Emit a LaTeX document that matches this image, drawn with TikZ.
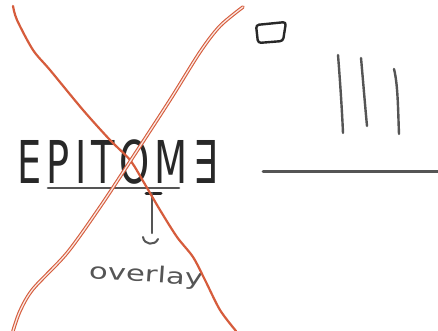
\documentclass[tikz,border=0pt]{standalone}
\usepackage{fontspec}
\setmainfont{DejaVu Sans}
\newfontfamily\spacedfont[LetterSpace=13]{DejaVu Sans}
\definecolor{redx}{RGB}{214,92,60}
\definecolor{ink}{RGB}{40,40,40}
\definecolor{greyink}{RGB}{85,85,85}
\tikzset{
  crossline/.style={draw=redx, line width=2.2pt, line cap=round, line join=round},
  doublecross/.style={draw=redx, line width=1.1pt, double=white!85!redx, double distance=1.3pt, line cap=round},
  pen/.style={draw=ink, line width=2.4pt, line cap=round, line join=round},
  greypen/.style={draw=greyink, line width=2.6pt, line cap=round},
}
\begin{document}
\begin{tikzpicture}[x=1pt,y=-1pt]
\useasboundingbox[fill=white] (0,0) rectangle (438,331);

% handwritten word
\node[anchor=base, inner sep=0, text=ink] (epitome) at (117.5,183)
  {\scalebox{0.65}[1]{\spacedfont\fontsize{59}{59}\selectfont EPITOM∃}};

% underline
\coordinate (ulA) at (48,188);
\coordinate (ulB) at (179,188);
\draw[greypen] (ulA) -- (ulB);

% T pointer and cup
\coordinate (tL) at (146,193);
\coordinate (tR) at (161,193);
\coordinate (tTop) at (152,193);
\coordinate (tBot) at (152,233);
\draw[pen, line width=3pt] (tL) -- (tR);
\draw[pen, draw=greyink] (tTop) -- (tBot);
\coordinate (cupL) at (143,237);
\coordinate (cupR) at (158,239);
\draw[greypen, line width=2pt] (cupL) .. controls (144,245) and (155,246) .. (cupR);

% overlay label
\node[inner sep=0, text=greyink, rotate=-4] (overlay) at (146,276)
  {\scalebox{1.4}[1]{\fontsize{22}{22}\selectfont overlay}};

% red cross
\draw[crossline] plot[smooth] coordinates {(13,6) (17,20) (33,50) (50,70) (83,110) (110,140) (130,160) (143,181) (160,210) (177,237) (193,257) (205,280) (220,310) (236,331)};
\draw[doublecross] plot[smooth] coordinates {(13,331) (20,311) (33,289) (67,253) (100,207) (131,160) (170,100) (200,52) (220,26) (243,7)};

% right side
\coordinate (b1) at (256,25);
\coordinate (b2) at (286,22);
\coordinate (b3) at (283,41);
\coordinate (b4) at (258,43);
\draw[pen, rounded corners=3pt] (b1) -- (b2) -- (b3) -- (b4) -- cycle;

\coordinate (s1a) at (338,55); \coordinate (s1b) at (343,133);
\coordinate (s2a) at (361,58); \coordinate (s2b) at (367,126);
\coordinate (s3a) at (394,69); \coordinate (s3b) at (399,134);
\draw[pen, draw=greyink] (s1a) .. controls (340,80) and (342,110) .. (s1b);
\draw[pen, draw=greyink] (s2a) .. controls (363,80) and (365,105) .. (s2b);
\draw[pen, draw=greyink] (s3a) .. controls (398,85) and (398,110) .. (s3b);

\coordinate (hA) at (263,171);
\coordinate (hB) at (438,171);
\draw[greypen, line width=3pt] (hA) -- (hB);
\end{tikzpicture}
\end{document}
